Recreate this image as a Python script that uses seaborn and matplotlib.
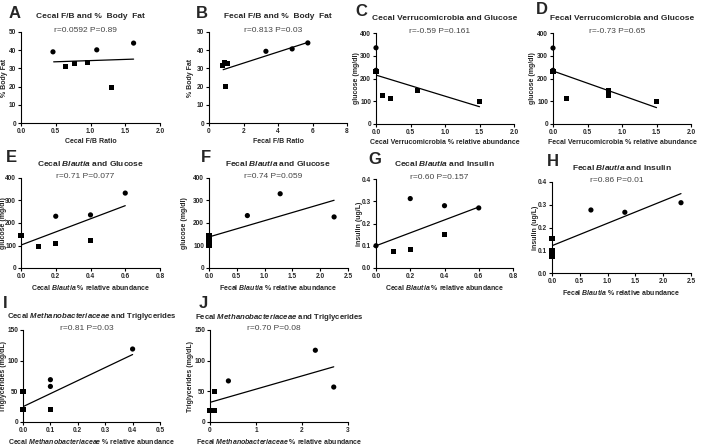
"""
Ten small Prism-style correlation scatter plots (gut bacteria vs metabolic markers).
"""

import numpy as np
import pandas as pd
import matplotlib.pyplot as plt
import seaborn as sns

# ---- data (circles, squares, drawn regression line) ----
a_circle_x = [0.46, 1.09, 1.62]
a_circle_y = [39.1, 40.2, 43.9]
a_square_x = [0.64, 0.77, 0.96, 1.30]
a_square_y = [31.2, 32.5, 33.2, 19.7]
a_line_x = [0.47, 1.62]
a_line_y = [33.6, 35.1]

b_circle_x = [3.30, 4.82, 5.73]
b_circle_y = [39.4, 40.7, 44.0]
b_square_x = [0.76, 0.87, 1.05, 0.93]
b_square_y = [31.5, 33.3, 32.8, 20.1]
b_line_x = [0.82, 5.73]
b_line_y = [29.3, 44.3]

c_circle_x = [0.0, 0.0]
c_circle_y = [335, 236]
c_square_x = [0.0, 0.1, 0.21, 0.6, 1.5]
c_square_y = [232, 126, 113, 149, 101]
c_line_x = [0.0, 1.5]
c_line_y = [215, 76]

d_circle_x = [0.0, 0.0]
d_circle_y = [334, 236]
d_square_x = [0.0, 0.2, 0.81, 0.81, 1.5]
d_square_y = [232, 113, 146, 126, 100]
d_line_x = [0.0, 1.5]
d_line_y = [233, 72]

e_circle_x = [0.2, 0.4, 0.6]
e_circle_y = [230, 236, 333]
e_square_x = [0.0, 0.1, 0.2, 0.4]
e_square_y = [144, 97, 111, 123]
e_line_x = [0.0, 0.6]
e_line_y = [102, 277]

f_circle_x = [0.69, 1.28, 2.25]
f_circle_y = [233, 330, 227]
f_square_x = [0.0, 0.0, 0.0, 0.0]
f_square_y = [143, 125, 112, 100]
f_line_x = [0.0, 2.25]
f_line_y = [138, 301]

g_circle_x = [0.0, 0.2, 0.4, 0.6]
g_circle_y = [0.100, 0.312, 0.280, 0.270]
g_square_x = [0.1, 0.2, 0.4]
g_square_y = [0.075, 0.082, 0.150]
g_line_x = [0.0, 0.6]
g_line_y = [0.100, 0.274]

h_circle_x = [0.7, 1.31, 2.32]
h_circle_y = [0.277, 0.267, 0.309]
h_square_x = [0.0, 0.0, 0.0, 0.0]
h_square_y = [0.150, 0.100, 0.080, 0.074]
h_line_x = [0.0, 2.32]
h_line_y = [0.120, 0.349]

i_circle_x = [0.1, 0.1, 0.4]
i_circle_y = [69, 58, 119]
i_square_x = [0.0, 0.0, 0.1]
i_square_y = [50, 20, 20]
i_line_x = [0.0, 0.4]
i_line_y = [25, 110]

j_circle_x = [0.4, 2.29, 2.69]
j_circle_y = [67, 117, 57]
j_square_x = [0.0, 0.1, 0.1]
j_square_y = [19, 19, 49]
j_line_x = [0.0, 2.69]
j_line_y = [32, 90]

letters = ['A', 'B', 'C', 'D', 'E', 'F', 'G', 'H', 'I', 'J']
titles = ['Cecal F/B and %  Body  Fat',
          'Fecal F/B and %  Body  Fat',
          'Cecal Verrucomicrobia and Glucose',
          'Fecal Verrucomicrobia and Glucose',
          r'Cecal $Blautia$ and Glucose',
          r'Fecal $Blautia$ and Glucose',
          r'Cecal $Blautia$ and Insulin',
          r'Fecal $Blautia$ and Insulin',
          r'Cecal $Methanobacteriaceae$ and Triglycerides',
          r'Fecal $Methanobacteriaceae$ and Triglycerides']
stats = ['r=0.0592 P=0.89', 'r=0.813 P=0.03', 'r=-0.59 P=0.161', 'r=-0.73 P=0.65',
         'r=0.71 P=0.077', 'r=0.74 P=0.059', 'r=0.60 P=0.157', 'r=0.86 P=0.01',
         'r=0.81 P=0.03', 'r=0.70 P=0.08']
xlabels = ['Cecal F/B Ratio', 'Fecal F/B Ratio',
           'Cecal Verrucomicrobia % relative abundance',
           'Fecal Verrucomicrobia % relative abundance',
           r'Cecal $Blautia$ % relative abundance',
           r'Fecal $Blautia$ % relative abundance',
           r'Cecal $Blautia$ % relative abundance',
           r'Fecal $Blautia$ % relative abundance',
           r'Cecal $Methanobacteriaceae$ % relative abundance',
           r'Fecal $Methanobacteriaceae$ % relative abundance']
ylabels = ['% Body Fat', '% Body Fat', 'glucose (mg/dl)', 'glucose (mg/dl)',
           'glucose (mg/dl)', 'glucose (mg/dl)', 'insulin (ug/L)', 'insulin (ug/L)',
           'Triglycerides (mg/dL)', 'Triglycerides (mg/dL)']
xticks = [[0.0, 0.5, 1.0, 1.5, 2.0], [0, 2, 4, 6, 8],
          [0.0, 0.5, 1.0, 1.5, 2.0], [0.0, 0.5, 1.0, 1.5, 2.0],
          [0.0, 0.2, 0.4, 0.6, 0.8], [0.0, 0.5, 1.0, 1.5, 2.0, 2.5],
          [0.0, 0.2, 0.4, 0.6, 0.8], [0.0, 0.5, 1.0, 1.5, 2.0, 2.5],
          [0.0, 0.1, 0.2, 0.3, 0.4, 0.5], [0, 1, 2, 3]]
yticks = [[0, 10, 20, 30, 40, 50], [0, 10, 20, 30, 40, 50],
          [0, 100, 200, 300, 400], [0, 100, 200, 300, 400],
          [0, 100, 200, 300, 400], [0, 100, 200, 300, 400],
          [0.0, 0.1, 0.2, 0.3, 0.4], [0.0, 0.1, 0.2, 0.3, 0.4],
          [0, 50, 100, 150], [0, 50, 100, 150]]
xfmt = ['%.1f', '%d', '%.1f', '%.1f', '%.1f', '%.1f', '%.1f', '%.1f', '%.1f', '%d']
yfmt = ['%d', '%d', '%d', '%d', '%d', '%d', '%.1f', '%.1f', '%d', '%d']

panels = [
    (a_circle_x, a_circle_y, a_square_x, a_square_y, a_line_x, a_line_y),
    (b_circle_x, b_circle_y, b_square_x, b_square_y, b_line_x, b_line_y),
    (c_circle_x, c_circle_y, c_square_x, c_square_y, c_line_x, c_line_y),
    (d_circle_x, d_circle_y, d_square_x, d_square_y, d_line_x, d_line_y),
    (e_circle_x, e_circle_y, e_square_x, e_square_y, e_line_x, e_line_y),
    (f_circle_x, f_circle_y, f_square_x, f_square_y, f_line_x, f_line_y),
    (g_circle_x, g_circle_y, g_square_x, g_square_y, g_line_x, g_line_y),
    (h_circle_x, h_circle_y, h_square_x, h_square_y, h_line_x, h_line_y),
    (i_circle_x, i_circle_y, i_square_x, i_square_y, i_line_x, i_line_y),
    (j_circle_x, j_circle_y, j_square_x, j_square_y, j_line_x, j_line_y),
]

# layout in pixels: axes boxes (left, top, right, bottom)
boxes = [(21, 32, 160, 123), (209, 32, 347, 123), (376, 33, 514, 124), (553, 33, 691, 124),
         (21, 178, 160, 268), (209, 178, 348, 268), (376, 179, 513, 268), (552, 182, 691, 273),
         (23, 330, 160, 422), (210, 330, 348, 422)]
# panel letter centres
letter_pos = [(15, 14), (202, 14), (361, 12), (542, 10), (11, 158), (206, 158),
              (375, 160), (553, 161), (5, 304), (203, 304)]
# distance of the y label (its right edge) left of the y axis
ylabel_off = [13, 15, 16, 17, 14, 21, 13, 13, 16, 16]
title_off = [15, 15, 14, 15, 14, 14, 15, 15, 13, 12.5]

sns.set_style('ticks')
plt.rcParams['font.family'] = ['Liberation Sans', 'DejaVu Sans']
plt.rcParams['mathtext.fontset'] = 'custom'
plt.rcParams['mathtext.it'] = 'Liberation Sans:italic:bold'
plt.rcParams['mathtext.rm'] = 'Liberation Sans:bold'

W, H = 702, 446
fig = plt.figure(figsize=(W / 100, H / 100), dpi=100)

for k, (cx, cy, sx, sy, lx, ly) in enumerate(panels):
    l, t, r, b = boxes[k]
    ax = fig.add_axes([l / W, 1 - b / H, (r - l) / W, (b - t) / H])

    sns.lineplot(x=lx, y=ly, ax=ax, color='black', linewidth=0.9)
    sns.scatterplot(x=cx, y=cy, ax=ax, marker='o', s=14, color='black',
                    edgecolor='none', clip_on=False, zorder=3)
    sns.scatterplot(x=sx, y=sy, ax=ax, marker='s', s=13, color='black',
                    edgecolor='none', clip_on=False, zorder=3)

    ax.set_xlim(xticks[k][0], xticks[k][-1])
    ax.set_ylim(yticks[k][0], yticks[k][-1])
    ax.set_xticks(xticks[k])
    ax.set_yticks(yticks[k])
    ax.set_xticklabels([xfmt[k] % v for v in xticks[k]], fontweight='bold')
    ax.set_yticklabels([yfmt[k] % v for v in yticks[k]], fontweight='bold')
    ax.tick_params(labelsize=4.7, length=2.5, width=0.8, pad=1, color='black')
    for side in ['top', 'right']:
        ax.spines[side].set_visible(False)
    for side in ['left', 'bottom']:
        ax.spines[side].set_linewidth(0.8)
        ax.spines[side].set_color('black')

    ax.set_xlabel(xlabels[k], fontsize=5.0, fontweight='bold', labelpad=2)
    ax.set_ylabel(ylabels[k], fontsize=5.0, fontweight='bold')
    ax.yaxis.set_label_coords(-ylabel_off[k] / (r - l), 0.5)

    cx_pix = (l + r) / 2
    tsize = 5.6 if k >= 8 else 6.0
    fig.text(cx_pix / W, 1 - (t - title_off[k]) / H, titles[k], ha='center', va='center',
             fontsize=tsize, fontweight='bold')
    fig.text((cx_pix - 5) / W, 1 - (t - 1.5) / H, stats[k], ha='center', va='center',
             fontsize=6.0, color='#444444')
    lx_pix, ly_pix = letter_pos[k]
    fig.text(lx_pix / W, 1 - ly_pix / H, letters[k], ha='center', va='center',
             fontsize=12, fontweight='bold')

fig.savefig('out.png', dpi=100)
